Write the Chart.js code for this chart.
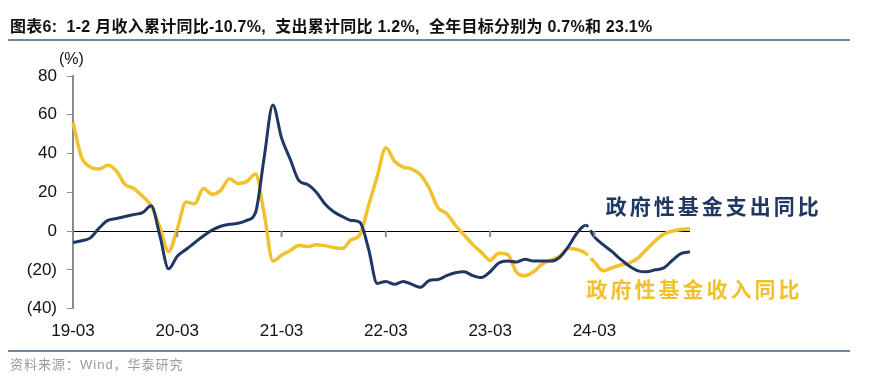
<!DOCTYPE html>
<html>
<head>
<meta charset="utf-8">
<script src="https://cdn.jsdelivr.net/npm/chart.js@4.4.1/dist/chart.umd.min.js"></script>
<style>
  html, body { margin: 0; padding: 0; background: #fff; }
  #wrap { position: relative; width: 872px; height: 385px; overflow: hidden; }
  #chart { position: absolute; left: 0; top: 0; }
  .title {
    position: absolute; left: 10px; top: 13px;
    font: bold 16px "Liberation Sans", "Noto Sans CJK SC", sans-serif;
    letter-spacing: 0.25px;
    color: #111; white-space: pre;
  }
  .rule { position: absolute; left: 8px; width: 842px; height: 2px; background: #71889a; }
  .source {
    position: absolute; left: 10px; top: 354px;
    font: 13px "Liberation Sans", "Noto Sans CJK SC", sans-serif;
    letter-spacing: 1px;
    color: #9a9a9a; white-space: pre;
  }
</style>
</head>
<body>
<div id="wrap">
  <canvas id="chart" width="872" height="385"></canvas>
  <div class="title">图表6:  1-2 月收入累计同比-10.7%,  支出累计同比 1.2%,  全年目标分别为 0.7%和 23.1%</div>
  <div class="rule" style="top:39px"></div>
  <div class="rule" style="top:350px"></div>
  <div class="source">资料来源：Wind，华泰研究</div>
</div>
<script>
// months, 2019-03 .. 2025-02
const months = [
  '19-03','19-04','19-05','19-06','19-07','19-08','19-09','19-10','19-11','19-12','20-01','20-02',
  '20-03','20-04','20-05','20-06','20-07','20-08','20-09','20-10','20-11','20-12','21-01','21-02',
  '21-03','21-04','21-05','21-06','21-07','21-08','21-09','21-10','21-11','21-12','22-01','22-02',
  '22-03','22-04','22-05','22-06','22-07','22-08','22-09','22-10','22-11','22-12','23-01','23-02',
  '23-03','23-04','23-05','23-06','23-07','23-08','23-09','23-10','23-11','23-12','24-01','24-02',
  '24-03','24-04','24-05','24-06','24-07','24-08','24-09','24-10','24-11','24-12','25-01','25-02'
];

// 政府性基金支出同比 (dark blue), %
const spending = [
  -6, -5, -3.5, 1.5, 5.5, 6.5, 7.5, 8.5, 9.5, 13, -2.5, -19.5,
  -13, -9.5, -6, -2.5, 0.5, 2.5, 3.5, 4, 5.5, 9.5, 38, 65,
  48, 37, 26, 24, 20, 14, 10, 7.5, 5.5, 4.5, -9, -27,
  -26, -27.5, -26, -27.5, -29, -25.5, -25, -23, -21.5, -21, -23, -24,
  -21, -16.5, -15.5, -16, -14.5, -15.5, -15.5, -15.5, -13.5, -8, -1, 3,
  -3, -7, -10.5, -14.5, -18, -20.5, -21, -20, -19, -15, -11.5, -10.7
];

// 政府性基金收入同比 (yellow), %
const revenue = [
  56, 38, 33, 32, 34, 31, 24, 22, 18, 13, 2, -10.5,
  1, 15, 14, 22, 19, 21, 27, 24.5, 25.5, 29.5, 9, -15.5,
  -12.5, -10, -7.5, -8, -7, -7.5, -8.5, -9, -4.5, -2, 13, 28,
  43, 36, 33, 32, 29, 22, 12, 9, 3, -2, -7, -11,
  -15, -11.5, -12, -21, -23, -21, -17, -15, -13, -9, -9.5, -11.5,
  -16, -20.5, -19, -17.5, -16.5, -14, -9.5, -5, -1.5, 0, 0.8, 1.2
];

const yTicks = [80, 60, 40, 20, 0, -20, -40];
const gapAfter = 59; // short break in both lines between 24-02 and 24-03

const NAVY = '#1f3762';
const GOLD = '#f2c12e';
const NUM_FONT = '"Liberation Sans", Arial, sans-serif';
const CJK_FONT = '"Noto Sans CJK SC", sans-serif';

// inline series labels, anchored in data units (month index, value)
const seriesNotes = [
  { text: '政府性基金支出同比', color: NAVY, at: [61.3, 13] },
  { text: '政府性基金收入同比', color: GOLD, at: [59.1, -30] }
];

const extras = {
  id: 'extras',
  afterDraw(chart) {
    const c = chart.ctx, x = chart.scales.x, y = chart.scales.y;
    const zero = y.getPixelForValue(0);
    c.save();
    // small tick marks on the zero line
    c.strokeStyle = '#8c8c8c';
    c.lineWidth = 2;
    months.forEach((m, i) => {
      if (i % 12 !== 0 || i === 0) return;
      const px = x.getPixelForValue(i);
      c.beginPath();
      c.moveTo(px, zero);
      c.lineTo(px, zero + 6);
      c.stroke();
    });
    // unit label
    c.fillStyle = '#111';
    c.font = '16px ' + NUM_FONT;
    c.textAlign = 'left';
    c.textBaseline = 'middle';
    c.fillText('(%)', chart.chartArea.left - 14, chart.chartArea.top - 16);
    // series notes
    c.font = 'bold 21px ' + CJK_FONT;
    c.letterSpacing = '3px';
    seriesNotes.forEach(n => {
      c.fillStyle = n.color;
      c.fillText(n.text, x.getPixelForValue(n.at[0]), y.getPixelForValue(n.at[1]));
    });
    c.restore();
  }
};

const gapDash = ctx => ctx.p0DataIndex === gapAfter ? [3, 4, 40] : undefined;

new Chart(document.getElementById('chart'), {
  type: 'line',
  data: {
    labels: months,
    datasets: [
      {
        label: '政府性基金支出同比',
        data: spending,
        borderColor: NAVY,
        borderWidth: 3,
        pointRadius: 0,
        cubicInterpolationMode: 'monotone',
        segment: { borderDash: gapDash }
      },
      {
        label: '政府性基金收入同比',
        data: revenue,
        borderColor: GOLD,
        borderWidth: 3.5,
        pointRadius: 0,
        cubicInterpolationMode: 'monotone',
        segment: { borderDash: gapDash }
      }
    ]
  },
  options: {
    responsive: false,
    animation: false,
    layout: { padding: { top: 76, right: 182, bottom: 30, left: 0 } },
    plugins: { legend: { display: false }, tooltip: { enabled: false } },
    scales: {
      x: {
        offset: false,
        grid: { display: false, drawTicks: false },
        border: { display: false },
        ticks: {
          autoSkip: false,
          maxRotation: 0,
          padding: 13,
          color: '#111',
          font: { family: NUM_FONT, size: 17 },
          callback(v, i) { return i % 12 === 0 ? months[i] : null; }
        }
      },
      y: {
        min: -40,
        max: 80,
        afterFit(scale) { scale.width = 73; },
        afterBuildTicks(scale) { scale.ticks = yTicks.map(v => ({ value: v })); },
        border: { color: '#8c8c8c', width: 2 },
        grid: {
          color: c => (c.tick && c.tick.value === 0 ? '#000' : 'rgba(0,0,0,0)'),
          tickColor: '#8c8c8c',
          tickLength: 6,
          lineWidth: 1
        },
        ticks: {
          padding: 10,
          color: '#111',
          font: { family: NUM_FONT, size: 17 },
          callback: v => (v < 0 ? '(' + (-v) + ')' : String(v))
        }
      }
    }
  },
  plugins: [extras]
});
</script>
</body>
</html>
